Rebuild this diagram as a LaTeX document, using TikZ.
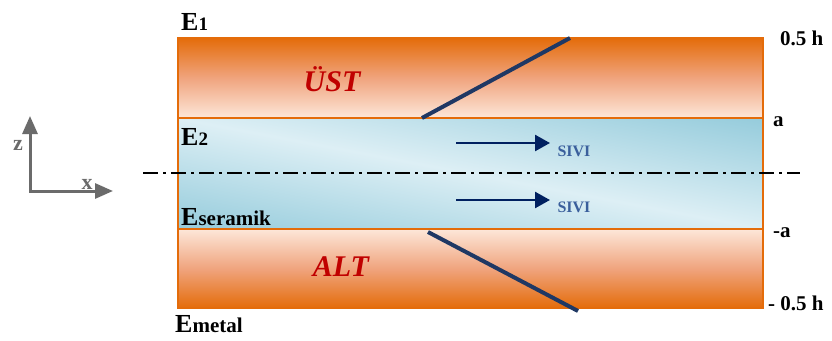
\documentclass[tikz,border=0pt]{standalone}
\usepackage{fontspec}
\setmainfont{Liberation Serif}
\usetikzlibrary{arrows.meta}
\definecolor{koyuturuncu}{HTML}{E46C0A}
\definecolor{somon}{HTML}{F0A47E}
\definecolor{acikturuncu}{HTML}{FDE7D9}
\definecolor{koyumavi}{HTML}{96CCDC}
\definecolor{acikmavi}{HTML}{DDEFF5}
\definecolor{lacivert}{HTML}{1F3864}
\definecolor{okmavi}{HTML}{002060}
\definecolor{yazimavi}{HTML}{3A5F9C}
\definecolor{kirmizi}{HTML}{C00000}
\definecolor{gri}{HTML}{6B6B6B}
\newcommand{\rakam}{\fontsize{19}{19}\selectfont}
\newcommand{\altindis}{\fontsize{21}{21}\selectfont}
\begin{document}
\begin{tikzpicture}[x=1pt,y=-1pt,
  kenar/.style={draw=koyuturuncu,line width=2.5pt},
  modul/.style={font=\fontsize{26}{26}\selectfont\bfseries,inner sep=0pt,anchor=base west},
  sinir/.style={font=\fontsize{21}{21}\selectfont\bfseries,inner sep=0pt,anchor=base west},
  katmanadi/.style={font=\fontsize{30}{30}\selectfont\bfseries\itshape,text=kirmizi,inner sep=0pt},
  sivi/.style={font=\fontsize{16}{16}\selectfont\bfseries,text=yazimavi,inner sep=0pt},
  akis/.style={okmavi,line width=2.5pt,-{Triangle[length=15pt,width=16pt]}},
  egim/.style={lacivert,line width=4pt},
  eksen/.style={gri,line width=3pt,{Triangle[length=18pt,width=15pt]}-{Triangle[length=18pt,width=15pt]}},
  harf/.style={font=\fontsize{22}{22}\selectfont\bfseries,text=gri,inner sep=0pt}]
\useasboundingbox (0,0) rectangle (832,340);
% katmanlar
\shade[top color=koyuturuncu,bottom color=acikturuncu,middle color=somon] (178,38) rectangle (763,118);
\begin{scope}
\clip (178,118) rectangle (763,229);
\begin{scope}[transform canvas={rotate around={-10.7:(470.5,173.5)}}]
\shade[top color=koyumavi,bottom color=koyumavi,middle color=acikmavi] (60,66) rectangle (880,281);
\end{scope}
\end{scope}
\shade[top color=acikturuncu,bottom color=koyuturuncu,middle color=somon] (178,229) rectangle (763,308);
\draw[kenar] (178,38) rectangle (763,118);
\draw[kenar] (178,118) rectangle (763,229);
\draw[kenar] (178,229) rectangle (763,308);
% egik cizgiler
\coordinate (ust1) at (422,118);
\coordinate (ust2) at (570,38);
\coordinate (alt1) at (428,232);
\coordinate (alt2) at (578,311);
\draw[egim] (ust1) -- (ust2);
\draw[egim] (alt1) -- (alt2);
% orta eksen
\coordinate (orta1) at (143,173);
\coordinate (orta2) at (800,173);
\draw[line width=1.5pt,dash pattern=on 15pt off 5pt on 3pt off 5pt] (orta1) -- (orta2);
% akis oklari
\coordinate (ok1) at (456,143);
\coordinate (ok2) at (550,143);
\coordinate (ok3) at (456,200);
\coordinate (ok4) at (550,200);
\draw[akis] (ok1) -- (ok2);
\draw[akis] (ok3) -- (ok4);
\node[sivi] (sivi1) at (574,151) {SIVI};
\node[sivi] (sivi2) at (574,207) {SIVI};
% etiketler
\node[katmanadi] (ust) at (332,79) {ÜST};
\node[katmanadi] (alt) at (341,267) {ALT};
\node[modul] (E1) at (181,30) {E{\rakam 1}};
\node[modul] (E2) at (181,145) {E{\rakam 2}};
\node[modul] (Es) at (181,225) {E{\altindis seramik}};
\node[modul] (Em) at (175,332) {E{\altindis metal}};
\node[sinir] (h1) at (780,45) {0.5 h};
\node[sinir] (a1) at (773,126) {a};
\node[sinir] (a2) at (773,237) {-a};
\node[sinir] (h2) at (768,310) {- 0.5 h};
% eksen takimi
\coordinate (O) at (30,191);
\coordinate (zuc) at (30,116);
\coordinate (xuc) at (113,191);
\draw[eksen] (zuc) -- (O) -- (xuc);
\node[harf] (z) at (18,145) {z};
\node[harf] (x) at (87,184) {x};
\end{tikzpicture}
\end{document}
